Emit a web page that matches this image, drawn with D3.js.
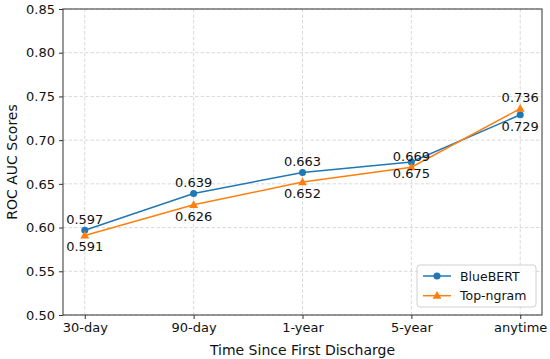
<!DOCTYPE html>
<html><head><meta charset="utf-8">
<script src="https://cdn.jsdelivr.net/npm/d3@7"></script>
<style>body{margin:0;background:#fff}svg{display:block;font-family:"DejaVu Sans",sans-serif}</style>
</head><body><svg id="c" width="550" height="359"></svg>
<script>
const categories = ["30-day","90-day","1-year","5-year","anytime"];
const blueValues = [0.597,0.639,0.663,0.675,0.729];
const ngramValues = [0.591,0.626,0.652,0.669,0.736];
const blueLabels = [0.597,0.639,0.663,0.669,0.729];
const blueLabelPos = ["above","above","above","above","below"];
const ngramLabels = [0.591,0.626,0.652,0.675,0.736];
const ngramLabelPos = ["below","below","below","below","above"];
const yTicks = [0.50,0.55,0.60,0.65,0.70,0.75,0.80,0.85];
const seriesNames = ["BlueBERT","Top-ngram"];

const W=550,H=359,m={l:63,r:8,t:9,b:44};
const svg=d3.select("#c");
const x0=m.l, x1=W-m.r, y0=H-m.b, y1=m.t;
const step=(x1-x0)/(categories.length-1+0.4);
const x=d3.scalePoint().domain(categories).range([x0+step*0.2,x1-step*0.2]);
const y=d3.scaleLinear().domain([0.5,0.85]).range([y0,y1]);
const blue="#1f77b4", orange="#ff7f0e";

const g=svg.append("g");
// grid
g.selectAll(".gx").data(categories).enter().append("line")
 .attr("x1",d=>x(d)).attr("x2",d=>x(d)).attr("y1",y1).attr("y2",y0)
 .attr("stroke","#cfcfcf").attr("stroke-width",0.8).attr("stroke-dasharray","3.5,2");
g.selectAll(".gy").data(yTicks).enter().append("line")
 .attr("x1",x0).attr("x2",x1).attr("y1",d=>y(d)).attr("y2",d=>y(d))
 .attr("stroke","#cfcfcf").attr("stroke-width",0.8).attr("stroke-dasharray","3.5,2");

// axes
const xa=svg.append("g").attr("transform",`translate(0,${y0})`)
 .call(d3.axisBottom(x).tickSize(4).tickPadding(4));
const ya=svg.append("g").attr("transform",`translate(${x0},0)`)
 .call(d3.axisLeft(y).tickValues(yTicks).tickFormat(d3.format(".2f")).tickSize(4).tickPadding(4));
[xa,ya].forEach(a=>{a.select(".domain").remove();a.selectAll("text").attr("font-size",13).attr("fill","#111").attr("font-family","DejaVu Sans");a.selectAll("line").attr("stroke","#333");});
svg.append("rect").attr("x",x0).attr("y",y1).attr("width",x1-x0).attr("height",y0-y1)
 .attr("fill","none").attr("stroke","#333").attr("stroke-width",1);

// lines
const line=d3.line().x((d,i)=>x(categories[i])).y(d=>y(d));
svg.append("path").datum(blueValues).attr("d",line).attr("fill","none").attr("stroke",blue).attr("stroke-width",1.5);
svg.append("path").datum(ngramValues).attr("d",line).attr("fill","none").attr("stroke",orange).attr("stroke-width",1.5);
svg.selectAll(".pb").data(blueValues).enter().append("circle")
 .attr("cx",(d,i)=>x(categories[i])).attr("cy",d=>y(d)).attr("r",3.5).attr("fill",blue);
const tri=d3.symbol().type(d3.symbolTriangle).size(34);
svg.selectAll(".po").data(ngramValues).enter().append("path")
 .attr("d",tri).attr("transform",(d,i)=>`translate(${x(categories[i])},${y(d)+0.5})`).attr("fill",orange);

// labels
function labels(vals,pos){
 svg.selectAll(null).data(vals).enter().append("text")
  .attr("x",(d,i)=>x(categories[i])).attr("y",(d,i)=>y(d)+(pos[i]==="above"?-6.5:16))
  .attr("text-anchor","middle").attr("font-size",13).attr("fill","#111").text(d=>d3.format(".3f")(d));
}
labels(blueLabels,blueLabelPos);
labels(ngramLabels,ngramLabelPos);

// axis titles
svg.append("text").attr("x",(x0+x1)/2).attr("y",355).attr("text-anchor","middle").attr("font-size",14).attr("fill","#111").text("Time Since First Discharge");
svg.append("text").attr("transform",`translate(17,${(y0+y1)/2}) rotate(-90)`).attr("text-anchor","middle").attr("font-size",14).attr("fill","#111").text("ROC AUC Scores");

// legend
const lg=svg.append("g");
lg.append("rect").attr("x",417).attr("y",265).attr("width",119).attr("height",42).attr("rx",3)
 .attr("fill","#fff").attr("fill-opacity",0.8).attr("stroke","#d0d0d0").attr("stroke-width",1);
const cols=[blue,orange];
seriesNames.forEach((n,i)=>{
 const yy=276+i*19.7;
 lg.append("line").attr("x1",423).attr("x2",451).attr("y1",yy).attr("y2",yy).attr("stroke",cols[i]).attr("stroke-width",1.5);
 if(i===0) lg.append("circle").attr("cx",437).attr("cy",yy).attr("r",3.5).attr("fill",blue);
 else lg.append("path").attr("d",tri).attr("transform",`translate(437,${yy+0.5})`).attr("fill",orange);
 lg.append("text").attr("x",460).attr("y",yy+4.5).attr("font-size",12.5).attr("fill","#111").text(n);
});
</script></body></html>
